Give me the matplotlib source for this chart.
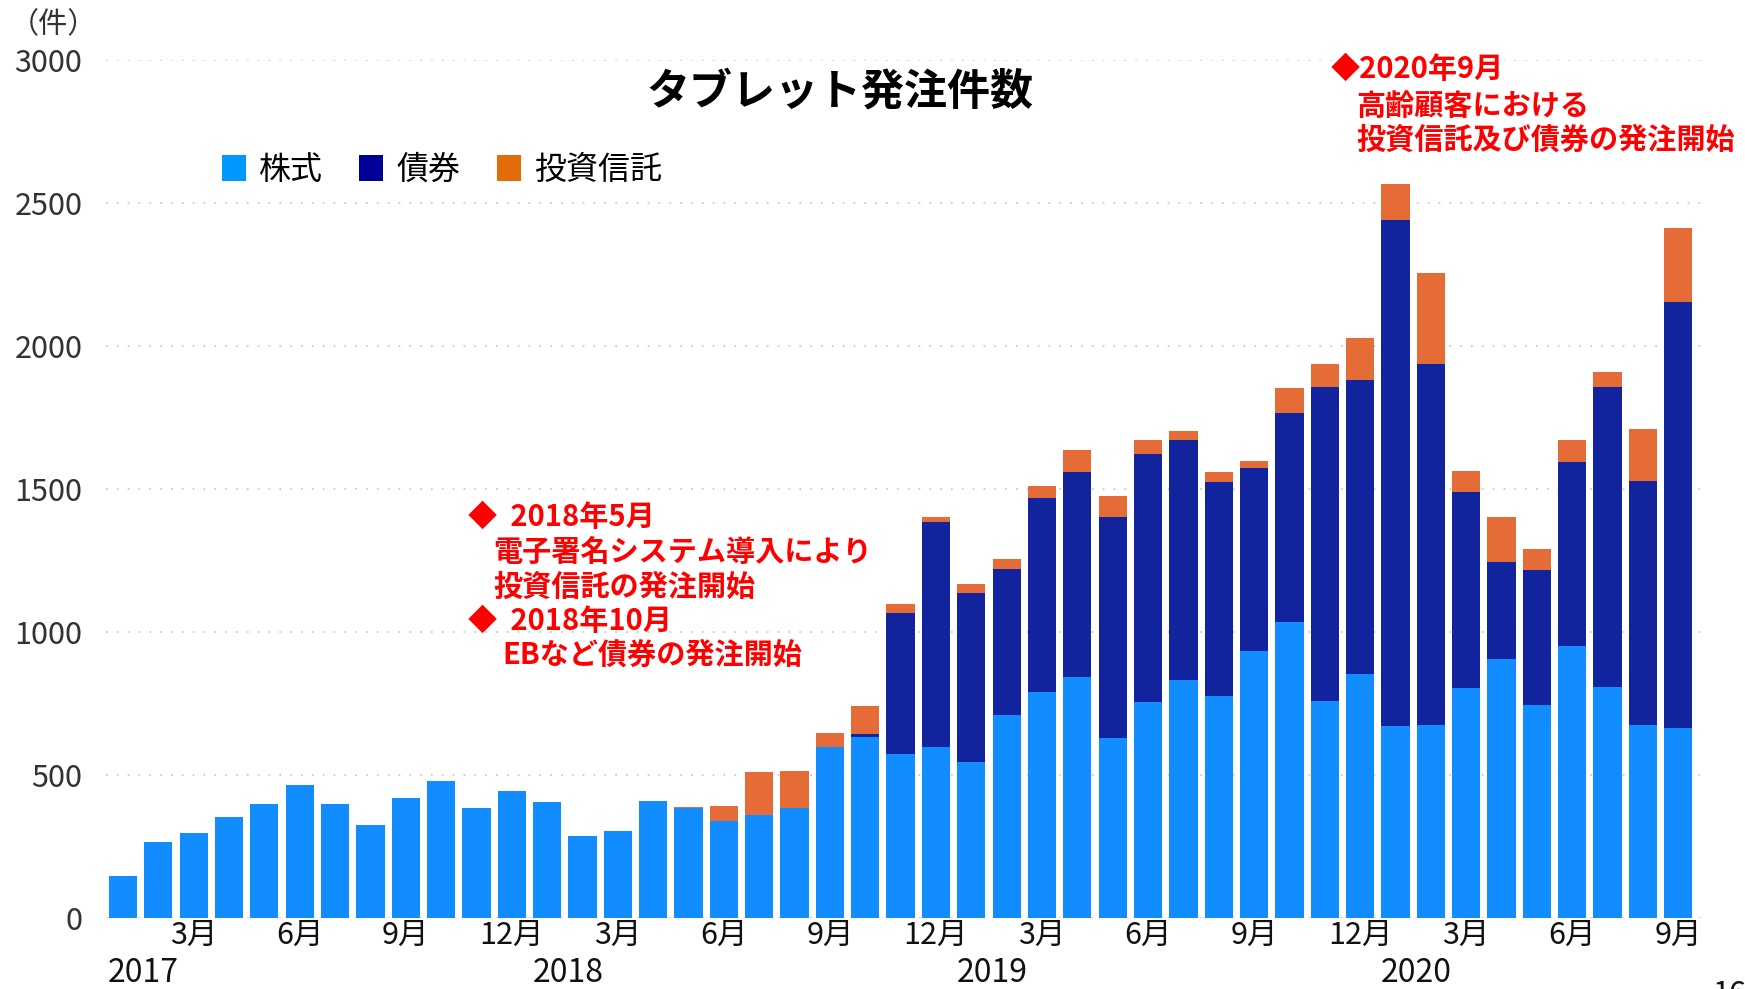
import matplotlib
matplotlib.use("Agg")
import matplotlib.pyplot as plt
import matplotlib.transforms as mtransforms
from matplotlib.patches import Patch
import numpy as np

plt.rcParams["font.family"] = ["Noto Sans CJK JP", "DejaVu Sans"]

# 2017年1月〜2020年9月 の月次データ
stock = [147, 265, 296, 354, 397, 466, 399, 326, 418, 480, 385, 443,
         404, 286, 304, 408, 386, 340, 360, 384, 597, 634, 574, 597,
         545, 711, 790, 844, 630, 754, 832, 776, 935, 1036, 759, 854,
         670, 676, 805, 906, 745, 950, 809, 675, 664]
bond = [0, 0, 0, 0, 0, 0, 0, 0, 0, 0, 0, 0,
        0, 0, 0, 0, 0, 0, 0, 0, 0, 8, 493, 786,
        592, 510, 679, 717, 771, 868, 839, 750, 639, 731, 1098, 1026,
        1771, 1261, 684, 340, 473, 644, 1047, 852, 1490]
fund = [0, 0, 0, 0, 0, 0, 0, 0, 0, 0, 0, 0,
        0, 0, 0, 0, 3, 53, 152, 130, 49, 99, 30, 18,
        31, 33, 41, 75, 73, 49, 33, 32, 25, 86, 81, 149,
        127, 317, 74, 155, 73, 76, 54, 182, 258]
month_ticks = [2, 5, 8, 11, 14, 17, 20, 23, 26, 29, 32, 35, 38, 41, 44]
month_labels = ["3月", "6月", "9月", "12月"] * 3 + ["3月", "6月", "9月"]
year_pos = [0, 12, 24, 36]
year_labels = ["2017", "2018", "2019", "2020"]
series_names = ["株式", "債券", "投資信託"]

W, H = 1745, 989
fig = plt.figure(figsize=(W / 100, H / 100), dpi=100)
ax = fig.add_axes([106 / W, 1 - 918 / H, (1703 - 106) / W, (918 - 60) / H])

x = np.arange(len(stock))
s = np.array(stock)
b = np.array(bond)
f = np.array(fund)
ax.bar(x, s, width=0.8, color="#118DFF", zorder=3)
ax.bar(x, b, width=0.8, bottom=s, color="#12239E", zorder=3)
ax.bar(x, f, width=0.8, bottom=s + b, color="#E66C37", zorder=3)

ax.set_xlim(-0.48, 44.7)
ax.set_ylim(0, 3000)
ax.set_yticks(np.arange(0, 3001, 500))
ax.grid(axis="y", color="#CCCCCC", linestyle=(0, (1, 5)), linewidth=1.3, zorder=0)
for sp in ax.spines.values():
    sp.set_visible(False)
ax.tick_params(axis="y", length=0, labelsize=22, pad=17, labelcolor="#333333")
ax.set_xticks(month_ticks)
ax.set_xticklabels(month_labels)
ax.tick_params(axis="x", length=0, labelsize=22, pad=1, labelcolor="#111111")

# 年ラベル（各年1月の棒の左端から）
trans = mtransforms.blended_transform_factory(ax.transData, ax.transAxes)
for p, lab in zip(year_pos, year_labels):
    ax.text(p - 0.42, -(973 - 918) / 858, lab, transform=trans, ha="left", va="center",
            fontsize=23, color="#111111")

fig.text(10 / W, 1 - 25 / H, "（件）", fontsize=21, ha="left", va="center", color="#333333")
fig.text(840 / W, 1 - 92 / H, "タブレット発注件数", fontsize=31, fontweight="bold",
         ha="center", va="center", color="black")

handles = [Patch(facecolor=c) for c in ["#0099FF", "#000099", "#E36C0A"]]
fig.legend(handles, series_names, loc="center left", bbox_to_anchor=(222 / W, 1 - 170 / H),
           ncol=3, frameon=False, fontsize=23, handlelength=0.75, handleheight=0.85,
           handletextpad=0.4, columnspacing=1.15, borderaxespad=0, borderpad=0)

red = "#FF0000"
fam = ["Noto Sans CJK JP", "DejaVu Sans"]
notes1 = [(468, 517, "◆  2018年5月"),
          (493, 552, "電子署名システム導入により"),
          (493, 587, "投資信託の発注開始"),
          (468, 621, "◆  2018年10月"),
          (502, 655, "EBなど債券の発注開始")]
for px, py, t in notes1:
    fig.text(px / W, 1 - py / H, t, fontsize=21, fontweight="bold", color=red,
             ha="left", va="center", family=fam)
notes2 = [(1331, 69, "◆2020年9月"),
          (1356, 106, "高齢顧客における"),
          (1356, 140, "投資信託及び債券の発注開始")]
for px, py, t in notes2:
    fig.text(px / W, 1 - py / H, t, fontsize=21, fontweight="bold", color=red,
             ha="left", va="center", family=fam)

# ページ番号（元画像でも下端で切れている）
fig.text(1712 / W, 1 - 979 / H, "16", fontsize=22, ha="left", va="top", color="#111111")

fig.savefig("out.png", dpi=100)
